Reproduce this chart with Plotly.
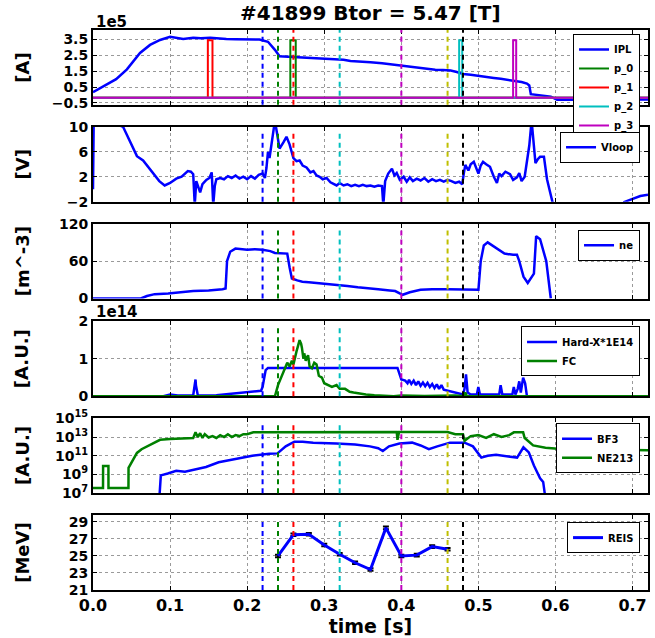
import plotly.graph_objects as go

# ---------------- data ----------------
# Panel 1: plasma current IPL, in units of 1e5 A
ipl_t = [0.0, 0.01, 0.022, 0.03, 0.044, 0.052, 0.061, 0.074, 0.087, 0.1, 0.108, 0.117, 0.13, 0.14, 0.152, 0.163,
         0.173, 0.185, 0.195, 0.205, 0.216, 0.227, 0.231, 0.236, 0.242, 0.25, 0.26, 0.27, 0.281, 0.292, 0.303,
         0.314, 0.325, 0.334, 0.346, 0.36, 0.375, 0.385, 0.399, 0.41, 0.42, 0.432, 0.444, 0.454, 0.464, 0.472,
         0.48, 0.49, 0.5, 0.51, 0.52, 0.529, 0.54, 0.55, 0.556, 0.563, 0.566, 0.568, 0.575, 0.585, 0.594, 0.602,
         0.62, 0.64, 0.66, 0.68, 0.7, 0.72]
ipl_v = [0.18, 0.45, 0.8, 1.0, 1.62, 2.1, 2.65, 3.16, 3.47, 3.67, 3.62, 3.53, 3.61, 3.58, 3.61, 3.56,
         3.53, 3.52, 3.5, 3.49, 3.5, 3.36, 3.15, 2.85, 2.44, 2.42, 2.44, 2.38, 2.34, 2.33, 2.3,
         2.27, 2.23, 2.15, 2.13, 2.06, 2.0, 1.94, 1.85, 1.78, 1.74, 1.67, 1.6, 1.58, 1.54, 1.45,
         1.33, 1.28, 1.2, 1.15, 1.08, 1.02, 0.95, 0.9, 0.82, 0.72, 0.6, 0.05, 0.02, -0.05, -0.1, -0.3,
         -0.3, -0.32, -0.3, -0.32, -0.3, -0.28]
pulse_base = -0.17
pulse_top = 3.45
p0_window = [0.256, 0.263]
p1_window = [0.149, 0.155]
p2_window = [0.475, 0.479]
p3_window = [0.545, 0.549]

# Panel 2: loop voltage [V]
vloop_t = [0.0, 0.001, 0.039, 0.045, 0.05, 0.057, 0.065, 0.074, 0.08, 0.086, 0.093, 0.1, 0.108, 0.115, 0.123,
           0.127, 0.13, 0.132, 0.134, 0.136, 0.139, 0.142, 0.147, 0.151, 0.154, 0.156, 0.158, 0.16, 0.165, 0.17,
           0.175, 0.18, 0.185, 0.19, 0.195, 0.2, 0.205, 0.21, 0.215, 0.22, 0.223, 0.225, 0.227, 0.229, 0.232,
           0.236, 0.24, 0.242, 0.247, 0.251, 0.255, 0.26, 0.264, 0.268, 0.272, 0.277, 0.282, 0.286, 0.29, 0.294,
           0.298, 0.303, 0.308, 0.312, 0.316, 0.32, 0.325, 0.33, 0.335, 0.34, 0.345, 0.35, 0.355, 0.36, 0.365,
           0.37, 0.3749, 0.3766, 0.379, 0.383, 0.3878, 0.391, 0.394, 0.398, 0.403, 0.407, 0.411, 0.415, 0.42,
           0.425, 0.43, 0.435, 0.44, 0.445, 0.45, 0.455, 0.46, 0.465, 0.47, 0.475, 0.479, 0.481, 0.483, 0.487,
           0.49, 0.494, 0.497, 0.5, 0.503, 0.506, 0.51, 0.515, 0.52, 0.524, 0.527, 0.53, 0.535, 0.541, 0.545,
           0.55, 0.553, 0.556, 0.56, 0.563, 0.566, 0.569, 0.572, 0.574, 0.577, 0.58, 0.585, 0.589, 0.593, 0.597,
           None, 0.688, 0.7, 0.71, 0.72]
vloop_v = [0.0, 12.0, 10.0, 8.5, 7.2, 5.3, 4.6, 3.2, 2.2, 1.3, 0.6, 1.0, 1.7, 2.0, 2.9,
           2.8, 2.4, -2.5, 1.3, 0.5, -0.5, 0.8, 1.5, 1.8, 2.7, -2.5, 0.5, 1.6, 1.8, 1.6,
           2.1, 1.8, 2.2, 1.7, 2.0, 1.6, 2.1, 1.7, 2.3, 2.5, 1.8, 3.4, 6.0, 5.0, 7.5,
           11.0, 8.0, 6.5, 7.5, 8.4, 7.2, 5.0, 4.5, 4.6, 3.8, 3.5, 2.7, 2.9, 2.2, 2.0,
           1.6, 1.8, 1.1, 0.8, 0.6, 1.0, 0.6, 0.8, 0.5, 0.7, 0.5, 0.7, 0.5, 0.6, 0.4,
           0.6, 0.5, -2.5, 1.3, 2.5, 3.3, 2.2, 2.6, 1.5, 2.0, 1.2, 1.9, 1.3, 1.7,
           1.4, 1.8, 1.2, 1.6, 1.3, 1.5, 1.2, 1.5, 1.3, 1.0, 1.2, 0.8, 2.5, 3.9, 3.0,
           4.0, 4.4, 3.5, 2.5, 3.8, 4.4, 4.0, 3.6, 2.0, 1.0, 2.5, 2.1, 2.8, 2.4, 1.5,
           1.9, 2.6, 1.3, 2.0, 4.2, 7.0, 11.0, 6.0, 4.2, 4.8, 5.2, 5.2, 1.6, -0.5, -2.5,
           None, -2.1, -1.5, -1.1, -0.9]

# Panel 3: density ne [m^-3] (as labelled)
ne_t = [0.0, 0.062, 0.07, 0.08, 0.0975, 0.11, 0.13, 0.15, 0.163, 0.168, 0.172, 0.1739, 0.178, 0.1848, 0.2,
        0.21, 0.22, 0.23, 0.236, 0.245, 0.252, 0.255, 0.258, 0.265, 0.2716, 0.28, 0.29, 0.299, 0.3157, 0.33,
        0.3435, 0.355, 0.37, 0.385, 0.392, 0.4017, 0.411, 0.4249, 0.44, 0.46, 0.4793, 0.5, 0.503, 0.507,
        0.512, 0.518, 0.5229, 0.5338, 0.545, 0.55, 0.553, 0.5585, 0.564, 0.5695, 0.572, 0.5749, 0.58, 0.588,
        0.5939]
ne_v = [0.0, 0.0, 4.0, 7.0, 8.0, 10.0, 12.0, 13.0, 14.0, 15.0, 16.0, 60.0, 75.0, 80.0, 78.0,
        79.0, 78.0, 76.0, 73.0, 72.0, 72.0, 50.0, 32.0, 29.0, 27.0, 26.0, 25.0, 24.0, 22.0, 20.0,
        18.0, 17.0, 15.0, 13.0, 12.0, 6.0, 10.0, 14.0, 15.0, 15.0, 15.0, 14.0, 60.0, 85.0,
        90.0, 85.0, 82.0, 72.0, 70.0, 70.0, 60.0, 35.0, 25.0, 35.0, 40.0, 100.0, 95.0, 60.0,
        0.0]

# Panel 4: Hard-X*1E14 and FC, in units of 1e14 A.U.
hx_t = [0.0, 0.09, 0.1, 0.11, 0.13, 0.1325, 0.133, 0.1335, 0.136, 0.16, 0.2, 0.21, 0.218, 0.22, 0.224,
        0.227, 0.3, 0.395, 0.4, 0.405, 0.408, 0.41, 0.413, 0.416, 0.419, 0.422, 0.425, 0.428, 0.431,
        0.434, 0.437, 0.44, 0.443, 0.446, 0.449, 0.452, 0.455, 0.462, 0.47, 0.48, 0.482, 0.4839, 0.486,
        0.49, 0.498, 0.4999, 0.502, 0.51, 0.527, 0.5288, 0.531, 0.544, 0.5459, 0.548, 0.551, 0.553,
        0.555, 0.558, 0.5606, 0.563, 0.6, 0.72]
hx_v = [0.0, 0.0, 0.05, 0.02, 0.03, 0.3, 0.45, 0.3, 0.02, 0.03, 0.1, 0.13, 0.15, 0.25, 0.7,
        0.76, 0.76, 0.76, 0.45, 0.42, 0.35, 0.44, 0.33, 0.42, 0.3, 0.4, 0.28, 0.37, 0.27,
        0.36, 0.25, 0.33, 0.22, 0.32, 0.2, 0.3, 0.18, 0.14, 0.1, 0.05, 0.2, 0.59, 0.1,
        0.05, 0.05, 0.25, 0.05, 0.05, 0.05, 0.3, 0.05, 0.05, 0.25, 0.05, 0.2, 0.4,
        0.1, 0.5, 0.35, 0.0, 0.0, 0.0]
fc_t = [0.0, 0.236, 0.24, 0.244, 0.247, 0.249, 0.252, 0.255, 0.258, 0.26, 0.262, 0.264, 0.266, 0.268,
        0.27, 0.271, 0.273, 0.274, 0.276, 0.279, 0.281, 0.284, 0.287, 0.29, 0.293, 0.297, 0.3, 0.305,
        0.31, 0.316, 0.32, 0.327, 0.333, 0.338, 0.345, 0.354, 0.365, 0.376, 0.39, 0.4, 0.43, 0.47,
        0.481, 0.483, 0.485, 0.5, 0.72]
fc_v = [0.0, 0.0, 0.3, 0.5, 0.65, 0.75, 0.9, 0.8, 0.95, 0.85, 1.05, 1.2, 1.35, 1.5,
        1.4, 1.3, 1.0, 1.15, 0.95, 1.1, 0.8, 0.75, 0.9, 0.85, 0.55, 0.5, 0.35, 0.3,
        0.25, 0.3, 0.2, 0.2, 0.12, 0.1, 0.07, 0.05, 0.03, 0.02, 0.0, 0.02, 0.01, 0.02,
        0.0, 0.1, 0.0, 0.0, 0.0]

# Panel 5: BF3 and NE213, as log10 of the A.U. value
bf3_t = [0.0865, 0.088, 0.097, 0.108, 0.1193, 0.1357, 0.1466, 0.163, 0.185, 0.2066, 0.2285, 0.2393, 0.25,
         0.2612, 0.272, 0.2857, 0.3157, 0.34, 0.3593, 0.37, 0.376, 0.384, 0.3976, 0.414, 0.425, 0.4357,
         0.4466, 0.463, 0.482, 0.4929, 0.5038, 0.512, 0.5229, 0.54, 0.5502, 0.5584, 0.5654, 0.572, 0.58,
         0.584, 0.586]
bf3_log = [7.0, 8.9, 9.1, 9.4, 9.3, 9.6, 9.8, 10.3, 10.65, 11.0, 11.2, 11.25, 12.0,
           12.5, 12.5, 12.4, 12.3, 12.2, 12.0, 11.8, 11.5, 12.0, 12.3, 12.4, 12.1, 11.7,
           12.0, 12.4, 12.4, 12.0, 10.8, 11.0, 11.1, 10.9, 10.8, 11.9, 11.35, 9.95, 8.6,
           8.2, 7.0]
ne213_t = [0.0, 0.013, 0.0131, 0.02, 0.0201, 0.046, 0.0461, 0.052, 0.057, 0.063, 0.07, 0.078, 0.087, 0.1,
           0.115, 0.13, 0.133, 0.136, 0.139, 0.142, 0.145, 0.15, 0.155, 0.16, 0.165, 0.17, 0.175, 0.18,
           0.185, 0.19, 0.195, 0.2, 0.208, 0.3, 0.394, 0.395, 0.397, 0.46, 0.47, 0.48, 0.482, 0.49, 0.5,
           0.51, 0.52, 0.53, 0.54, 0.546, 0.558, 0.56, 0.565, 0.571, 0.587, 0.603, 0.63, 0.66, 0.7, 0.72]
ne213_log = [7.54, 7.54, 9.9, 9.9, 7.54, 7.54, 9.7, 10.5, 11.3, 11.7, 12.0, 12.4, 12.7, 12.8,
             12.85, 12.9, 13.5, 13.0, 13.4, 12.9, 13.3, 12.95, 13.1, 12.9, 13.2, 13.0, 13.3, 13.0,
             13.2, 13.1, 13.3, 13.3, 13.5, 13.54, 13.54, 12.7, 13.54, 13.54, 13.3, 13.3, 12.6, 13.1, 13.2,
             12.9, 13.3, 13.0, 13.2, 13.5, 13.5, 12.9, 12.5, 12.1, 11.85, 11.75, 11.7, 11.65, 11.6, 11.6]

# Panel 6: REIS energy [MeV]
reis_t = [0.24, 0.26, 0.28, 0.30, 0.32, 0.34, 0.36, 0.38, 0.40, 0.42, 0.44, 0.46]
reis_v = [25.0, 27.5, 27.55, 26.3, 25.2, 24.2, 23.4, 28.3, 25.0, 25.1, 26.1, 25.8]
reis_err = [0.15] * 12

# time markers (dashed lines)
marker_t = [0.22, 0.24, 0.26, 0.32, 0.40, 0.46, 0.48]
marker_c = ['#0000ff', '#008000', '#ff0000', '#00bfbf', '#bf00bf', '#bfbf00', '#000000']

# ---------------- figure ----------------
FONT = 'DejaVu Sans'
BLUE, GREEN, RED, CYAN, MAG = '#0000ff', '#008000', '#ff0000', '#00bfbf', '#bf00bf'
LW = 2.5

fig = go.Figure()


def pulse(win):
    xs = [0.0, win[0], win[0], win[1], win[1], 0.72]
    ys = [pulse_base, pulse_base, pulse_top, pulse_top, pulse_base, pulse_base]
    return xs, ys


fig.add_trace(go.Scatter(x=ipl_t, y=ipl_v, mode='lines', name='IPL', line=dict(color=BLUE, width=LW),
                         xaxis='x', yaxis='y', legend='legend'))
for nm, win, col in [('p_0', p0_window, GREEN), ('p_1', p1_window, RED),
                     ('p_2', p2_window, CYAN), ('p_3', p3_window, MAG)]:
    xs, ys = pulse(win)
    fig.add_trace(go.Scatter(x=xs, y=ys, mode='lines', name=nm, line=dict(color=col, width=2),
                             xaxis='x', yaxis='y', legend='legend'))

fig.add_trace(go.Scatter(x=vloop_t, y=vloop_v, mode='lines', name='Vloop', line=dict(color=BLUE, width=LW),
                         xaxis='x2', yaxis='y2', legend='legend2', connectgaps=False))
fig.add_trace(go.Scatter(x=ne_t, y=ne_v, mode='lines', name='ne', line=dict(color=BLUE, width=LW),
                         xaxis='x3', yaxis='y3', legend='legend3'))
fig.add_trace(go.Scatter(x=hx_t, y=hx_v, mode='lines', name='Hard-X*1E14', line=dict(color=BLUE, width=LW),
                         xaxis='x4', yaxis='y4', legend='legend4'))
fig.add_trace(go.Scatter(x=fc_t, y=fc_v, mode='lines', name='FC', line=dict(color=GREEN, width=LW),
                         xaxis='x4', yaxis='y4', legend='legend4'))
fig.add_trace(go.Scatter(x=bf3_t, y=[10 ** v for v in bf3_log], mode='lines', name='BF3',
                         line=dict(color=BLUE, width=LW), xaxis='x5', yaxis='y5', legend='legend5'))
fig.add_trace(go.Scatter(x=ne213_t, y=[10 ** v for v in ne213_log], mode='lines', name='NE213',
                         line=dict(color=GREEN, width=LW), xaxis='x5', yaxis='y5', legend='legend5'))
fig.add_trace(go.Scatter(x=reis_t, y=reis_v, mode='lines', name='REIS', line=dict(color=BLUE, width=3),
                         error_y=dict(type='data', array=reis_err, color='black', thickness=2, width=3),
                         xaxis='x6', yaxis='y6', legend='legend6'))

# panel layout (pixel rows -> paper)
H_TOP, H_BOT = 30, 591
panel_px = [(30, 105), (127, 202), (224, 299), (322, 397), (419, 494), (516, 591)]


def dom(p):
    top, bot = p
    return [(H_BOT - bot) / (H_BOT - H_TOP), (H_BOT - top) / (H_BOT - H_TOP)]


tickfont = dict(family=FONT, size=14, color='black', weight='bold')
grid = dict(showgrid=True, gridcolor='#9a9a9a', griddash='dot', gridwidth=1)
frame = dict(showline=True, linecolor='black', linewidth=2, mirror='allticks', ticks='inside',
             ticklen=4, tickwidth=1, tickcolor='black', zeroline=False)

xticks = [0.0, 0.1, 0.2, 0.3, 0.4, 0.5, 0.6, 0.7]
yspecs = [
    dict(range=[-0.62, 4.1], tickvals=[-0.5, 0.5, 1.5, 2.5, 3.5], ticktext=['−0.5', '0.5', '1.5', '2.5', '3.5']),
    dict(range=[-2, 10], tickvals=[-2, 2, 6, 10], ticktext=['−2', '2', '6', '10']),
    dict(range=[0, 120], tickvals=[0, 60, 120], ticktext=['0', '60', '120']),
    dict(range=[0, 2], tickvals=[0, 1, 2], ticktext=['0', '1', '2']),
    dict(type='log', range=[7, 15], tickvals=[1e7, 1e9, 1e11, 1e13, 1e15],
         ticktext=['10<sup>7</sup>', '10<sup>9</sup>', '10<sup>11</sup>', '10<sup>13</sup>', '10<sup>15</sup>']),
    dict(range=[21, 29.8], tickvals=[21, 23, 25, 27, 29], ticktext=['21', '23', '25', '27', '29']),
]

layout = dict(width=655, height=638, margin=dict(l=93, r=5, t=30, b=47),
              paper_bgcolor='white', plot_bgcolor='white', showlegend=True,
              font=dict(family=FONT, color='black'))

for i in range(6):
    n = '' if i == 0 else str(i + 1)
    layout['xaxis' + n] = dict(domain=[0, 1], anchor='y' + n, range=[0, 0.72], tickvals=xticks,
                               ticktext=['%.1f' % v for v in xticks], showticklabels=(i == 5),
                               tickfont=dict(family=FONT, size=16, color='black', weight='bold'),
                               **grid, **frame)
    ys = dict(yspecs[i])
    layout['yaxis' + n] = dict(domain=dom(panel_px[i]), anchor='x' + n, tickfont=tickfont,
                               tickmode='array', **ys, **grid, **frame)

layout['xaxis6']['title'] = dict(text='time [s]', font=dict(family=FONT, size=19, weight='bold'), standoff=4)

# legends
legfont = dict(family=FONT, size=10, color='black', weight='bold')


def leg(xr, ytop):
    return dict(x=(xr - 93) / 557, y=(H_BOT - ytop) / (H_BOT - H_TOP), xanchor='right', yanchor='top',
                bgcolor='white', bordercolor='black', borderwidth=1, font=legfont, itemwidth=30,
                tracegroupgap=0)


layout['legend'] = leg(642, 34)
layout['legend2'] = leg(642, 132)
layout['legend3'] = leg(642, 230)
layout['legend4'] = leg(642, 327)
layout['legend5'] = leg(642, 424)
layout['legend6'] = leg(642, 523)

fig.update_layout(**layout)

# dashed time markers
shapes = []
for i in range(6):
    n = '' if i == 0 else str(i + 1)
    y1 = 1.0 if i == 0 else 0.93
    for t, c in zip(marker_t, marker_c):
        shapes.append(dict(type='line', xref='x' + n, yref='y' + n + ' domain', x0=t, x1=t, y0=0, y1=y1,
                           line=dict(color=c, width=2, dash='5px,4px'), layer='above'))
fig.update_layout(shapes=shapes)

# text annotations
ann = []
ann.append(dict(text='#41899 Btor = 5.47 [T]', xref='paper', yref='paper', x=0.5, y=(H_BOT - 13) / 561,
                xanchor='center', yanchor='middle', showarrow=False,
                font=dict(family=FONT, size=20, weight='bold', color='black')))
ann.append(dict(text='1e5', xref='paper', yref='paper', x=0.002, y=(H_BOT - 22) / 561,
                xanchor='left', yanchor='middle', showarrow=False,
                font=dict(family=FONT, size=15, weight='bold', color='black')))
ann.append(dict(text='1e14', xref='paper', yref='paper', x=0.002, y=(H_BOT - 313) / 561,
                xanchor='left', yanchor='middle', showarrow=False,
                font=dict(family=FONT, size=15, weight='bold', color='black')))
ylabels = ['[A]', '[V]', '[m^-3]', '[A.U.]', '[A.U.]', '[MeV]']
for i, lab in enumerate(ylabels):
    top, bot = panel_px[i]
    ann.append(dict(text=lab, xref='paper', yref='paper', x=(22 - 93) / 557,
                    y=(H_BOT - (top + bot) / 2) / 561, xanchor='center', yanchor='middle',
                    textangle=-90, showarrow=False,
                    font=dict(family=FONT, size=18, weight='bold', color='black')))
fig.update_layout(annotations=ann)

fig.write_html('out.html')
